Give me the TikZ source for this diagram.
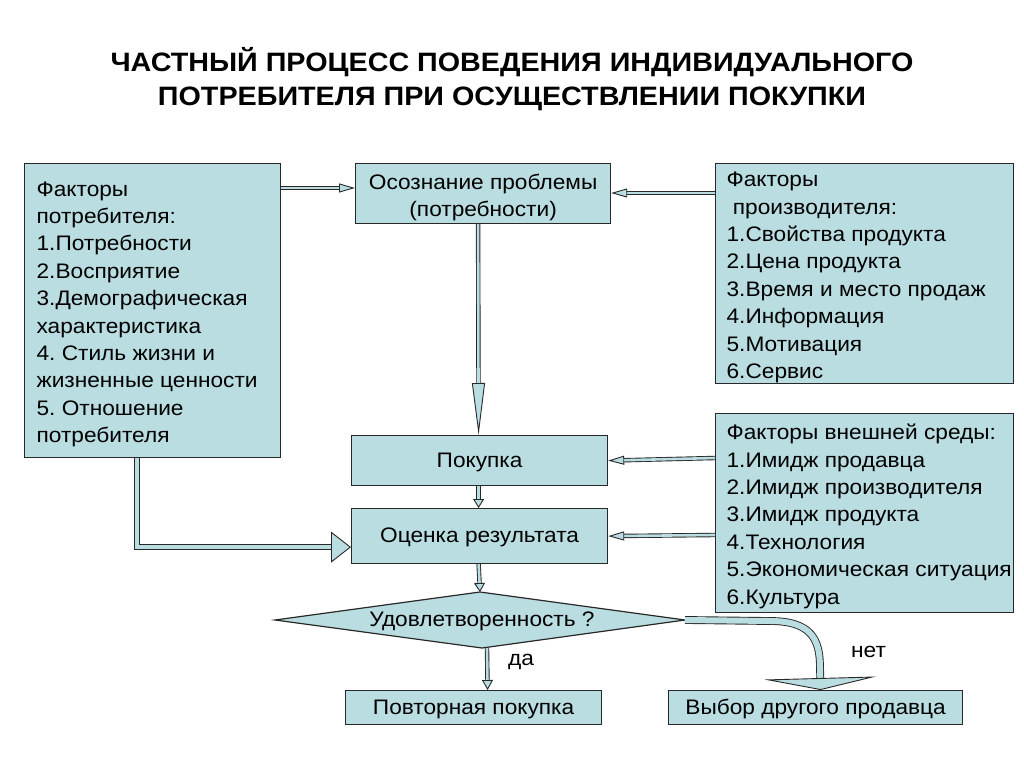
\documentclass[tikz,border=0pt]{standalone}
\usepackage{fontspec}
\setmainfont[FakeStretch=1.08]{Liberation Sans}
\usetikzlibrary{arrows.meta,calc}
\frenchspacing
\definecolor{boxfill}{RGB}{185,221,225}
\definecolor{edge}{RGB}{40,40,40}
\newcommand{\bxtext}[5]{\parbox[c][#1][t]{#2}{\frenchspacing\vspace*{#3}#4#5}}
\tikzset{
  box/.style={draw=edge, line width=1.2pt, fill=boxfill, inner sep=0pt, font=\fontsize{21}{27.4}\selectfont},
  one/.style={text height=17pt, text depth=4pt},
  blk/.style={double=boxfill, double distance=2.6pt, line width=0.9pt, draw=edge,
    -{Triangle[length=16pt, width=9pt, fill=boxfill, line width=0.9pt]}},
  lbl/.style={font=\fontsize{21}{25}\selectfont, inner sep=0pt}
}
\begin{document}
\begin{tikzpicture}[x=1pt,y=-1pt]
\useasboundingbox (0,0) rectangle (1024,767);
\fill[white] (0,0) rectangle (1024,767);
% title
\node[font=\bfseries\fontsize{26.6}{34}\selectfont, align=center] (title) at (512,79)
  {ЧАСТНЫЙ ПРОЦЕСС ПОВЕДЕНИЯ ИНДИВИДУАЛЬНОГО\\ПОТРЕБИТЕЛЯ ПРИ ОСУЩЕСТВЛЕНИИ ПОКУПКИ};
% boxes
\node[box, anchor=north west, minimum width=256pt, minimum height=294pt] (L) at (24,163)
  {\bxtext{294pt}{256pt}{18pt}{\raggedright\leftskip=12pt\relax}{Факторы\\потребителя:\\1.Потребности\\2.Восприятие\\3.Демографическая\\характеристика\\4. Стиль жизни и\\жизненные ценности\\5. Отношение\\потребителя}};
\node[box, anchor=north west, minimum width=255pt, minimum height=60pt] (P) at (355,163)
  {\bxtext{60pt}{255pt}{10pt}{\centering}{Осознание проблемы\\(потребности)}};
\node[box, anchor=north west, minimum width=298pt, minimum height=220pt] (R1) at (715,163)
  {\bxtext{220pt}{298pt}{8.5pt}{\raggedright\leftskip=11pt\relax}{Факторы\\\ производителя:\\1.Свойства продукта\\2.Цена продукта\\3.Время и место продаж\\4.Информация\\5.Мотивация\\6.Сервис}};
\node[box, anchor=north west, minimum width=298pt, minimum height=199pt] (R2) at (715,413)
  {\bxtext{199pt}{298pt}{10.5pt}{\raggedright\leftskip=11pt\relax}{Факторы внешней среды:\\1.Имидж продавца\\2.Имидж производителя\\3.Имидж продукта\\4.Технология\\5.Экономическая~ситуация\\6.Культура}};
\node[box, one, anchor=north west, minimum width=256pt, minimum height=50pt] (B) at (351,435) {Покупка};
\node[box, one, anchor=north west, minimum width=256pt, minimum height=55pt] (E) at (351,508) {Оценка результата};
\node[box, one, anchor=north west, minimum width=256pt, minimum height=34pt] (Y) at (345,690) {Повторная покупка};
\node[box, one, anchor=north west, minimum width=294pt, minimum height=34pt] (N) at (668,690) {Выбор другого продавца};
% diamond
\coordinate (Dw) at (275,620);
\coordinate (De) at (685,620);
\coordinate (Dn) at (480,592);
\coordinate (Ds) at (482,648);
\filldraw[draw=edge, line width=1.2pt, fill=boxfill] (Dw) -- (Dn) -- (De) -- (Ds) -- cycle;
\node[lbl] (D) at (482,621) {Удовлетворенность ?};
% arrows
\draw[blk] ($(L.north east)+(0,25)$) -- ($(P.north west)+(0,25)$);
\draw[blk] ($(R1.north west)+(0,30)$) -- ($(P.north east)+(0,30)$);
\draw[blk, -{Triangle[length=52pt, width=13pt, fill=boxfill, line width=0.9pt]}] ($(P.south)+(-5,0)$) -- ($(B.north)+(-1,0)$);
\draw[blk] ($(R2.north west)+(0,45)$) -- (B.east);
\draw[blk] ($(R2.north west)+(0,122)$) -- (E.east);
\draw[blk, -{Triangle[length=9pt, width=11pt, fill=boxfill, line width=0.9pt]}] ($(B.south)+(-1,0)$) -- ($(E.north)+(-1,0)$);
\draw[blk, -{Triangle[length=9pt, width=11pt, fill=boxfill, line width=0.9pt]}] ($(E.south)+(-1,0)$) -- (Dn);
\draw[blk, double distance=3.6pt, -{Triangle[length=20pt, width=31pt, fill=boxfill, line width=0.9pt]}]
  ($(L.south west)+(113,0)$) |- ($(E.west)+(0,11)$);
\draw[blk, -{Triangle[length=10pt, width=11pt, fill=boxfill, line width=0.9pt]}] ($(Ds)+(5,0)$) -- ($(Y.north)+(14,0)$);
\draw[blk, double distance=6pt, -{Triangle[length=12pt, width=112pt, fill=boxfill, line width=0.9pt]}]
  (De) -- (770,621) .. controls (812,621) and (820,640) .. (820,668) -- ($(N.north)+(5,0)$);
\node[lbl, anchor=west] (da) at (508,662) {да};
\node[lbl, anchor=west] (net) at (851,652) {нет};
\end{tikzpicture}
\end{document}
